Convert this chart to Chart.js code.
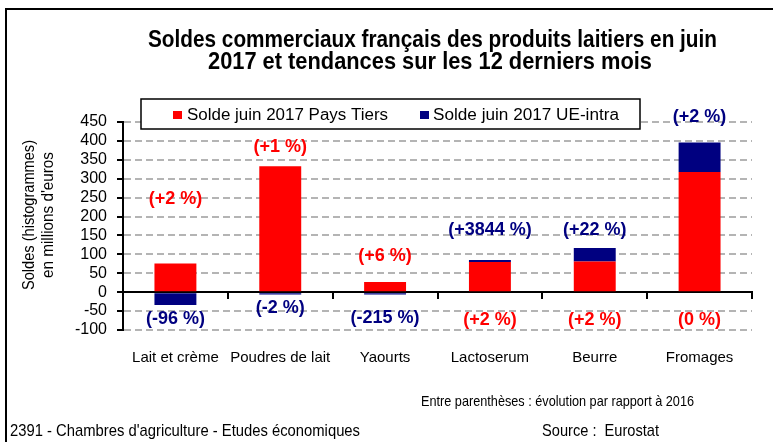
<!DOCTYPE html>
<html>
<head>
<meta charset="utf-8">
<script src="https://cdn.jsdelivr.net/npm/chart.js@4.4.1/dist/chart.umd.min.js"></script>
<style>
  html, body { margin: 0; padding: 0; background: #fff; }
  #wrap { width: 773px; height: 442px; position: relative; }
</style>
</head>
<body>
<div id="wrap"><canvas id="soldesChart"></canvas></div>
<script>
const FONT = "'Liberation Sans', Arial, sans-serif";

// Data (millions d'euros)
const categories = ['Lait et crème', 'Poudres de lait', 'Yaourts', 'Lactoserum', 'Beurre', 'Fromages'];
const paysTiers = [76, 333, 27, 80, 81, 318];
const ueIntra = [-34, -6, -6, 5, 36, 78];
const yTicks = { min: -100, max: 450, step: 50 };

// Evolution vs 2016, and the value each label sits at
const paysTiersEvo = ['(+2 %)', '(+1 %)', '(+6 %)', '(+2 %)', '(+2 %)', '(0 %)'];
const paysTiersEvoAt = [246, 384, 95, -74, -74, -74];
const ueIntraEvo = ['(-96 %)', '(-2 %)', '(-215 %)', '(+3844 %)', '(+22 %)', '(+2 %)'];
const ueIntraEvoAt = [-71, -42, -69, 164, 164, 463];

const RED = '#ff0000';
const NAVY = '#000080';

// draw text squeezed/stretched to a given width (the original uses condensed text)
function fitText(ctx, text, x, y, width) {
    const w = ctx.measureText(text).width;
    ctx.save();
    ctx.translate(x, y);
    ctx.scale(width / w, 1);
    ctx.textAlign = 'left';
    ctx.fillText(text, 0, 0);
    ctx.restore();
}

const decor = {
    id: 'decor',
    afterDraw(chart) {
        const ctx = chart.ctx;
        const xs = chart.scales.x;
        const ys = chart.scales.y;
        ctx.save();
        ctx.textBaseline = 'middle';
        ctx.textAlign = 'center';
        ctx.font = 'bold 18px ' + FONT;

        // evolution labels
        categories.forEach((c, i) => {
            const px = xs.getPixelForValue(i);
            ctx.fillStyle = RED;
            ctx.fillText(paysTiersEvo[i], px, ys.getPixelForValue(paysTiersEvoAt[i]));
            ctx.fillStyle = NAVY;
            ctx.fillText(ueIntraEvo[i], px, ys.getPixelForValue(ueIntraEvoAt[i]));
        });

        // legend box
        ctx.fillStyle = '#fff';
        ctx.fillRect(141, 99, 499, 30);
        ctx.strokeStyle = '#000';
        ctx.lineWidth = 1.5;
        ctx.strokeRect(141, 99, 499, 30);
        ctx.textBaseline = 'alphabetic';
        ctx.font = '16px ' + FONT;
        ctx.fillStyle = RED;
        ctx.fillRect(173, 111, 9, 8);
        ctx.fillStyle = '#000';
        fitText(ctx, 'Solde juin 2017 Pays Tiers', 187, 120, 201);
        ctx.fillStyle = NAVY;
        ctx.fillRect(420, 111, 9, 8);
        ctx.fillStyle = '#000';
        fitText(ctx, 'Solde juin 2017 UE-intra', 433, 120, 186);

        // title
        ctx.font = 'bold 24px ' + FONT;
        fitText(ctx, 'Soldes commerciaux français des produits laitiers en juin', 148, 47, 569);
        fitText(ctx, '2017 et tendances sur les 12 derniers mois', 208, 69, 444);

        // y axis title
        ctx.font = '16px ' + FONT;
        ctx.save();
        ctx.translate(34, 215);
        ctx.rotate(-Math.PI / 2);
        fitText(ctx, 'Soldes (histogrammes)', -75, 0, 150);
        ctx.restore();
        ctx.save();
        ctx.translate(53, 215);
        ctx.rotate(-Math.PI / 2);
        fitText(ctx, "en millions d'euros", -63, 0, 126);
        ctx.restore();

        // footer
        ctx.font = '15px ' + FONT;
        fitText(ctx, 'Entre parenthèses : évolution par rapport à 2016', 421, 406, 273);
        ctx.font = '17px ' + FONT;
        fitText(ctx, "2391 - Chambres d'agriculture - Etudes économiques", 10, 436, 350);
        fitText(ctx, 'Source :  Eurostat', 542, 436, 117);

        // frame
        ctx.strokeStyle = '#000';
        ctx.lineWidth = 2;
        ctx.beginPath();
        ctx.moveTo(6, 442);
        ctx.lineTo(6, 9);
        ctx.lineTo(773, 9);
        ctx.stroke();
        ctx.restore();
    }
};

new Chart(document.getElementById('soldesChart'), {
    type: 'bar',
    data: {
        labels: categories,
        datasets: [
            { label: 'Solde juin 2017 Pays Tiers', data: paysTiers, backgroundColor: RED, borderWidth: 0 },
            { label: 'Solde juin 2017 UE-intra', data: ueIntra, backgroundColor: NAVY, borderWidth: 0 }
        ]
    },
    options: {
        responsive: true,
        maintainAspectRatio: false,
        animation: false,
        layout: { padding: { left: 0, right: 21, top: 122, bottom: 0 } },
        datasets: { bar: { categoryPercentage: 1, barPercentage: 0.4 } },
        plugins: {
            legend: { display: false },
            title: { display: false },
            tooltip: { enabled: false }
        },
        scales: {
            x: {
                stacked: true,
                ticks: { color: '#000', font: { size: 15, family: FONT }, padding: 19, maxRotation: 0, autoSkip: false },
                grid: { display: false, drawTicks: false },
                border: { display: false },
                afterFit: s => { s.height = 112; }
            },
            x2: {
                type: 'category',
                labels: categories,
                position: { y: 0 },
                offset: true,
                ticks: { display: false },
                grid: { offset: true, drawOnChartArea: false, color: '#000', lineWidth: 2, tickLength: 6 },
                border: { color: '#000', width: 2 }
            },
            y: {
                stacked: true,
                min: yTicks.min,
                max: yTicks.max,
                ticks: {
                    stepSize: yTicks.step, maxTicksLimit: 20, autoSkip: false,
                    color: '#000', font: { size: 16, family: FONT }, padding: 10
                },
                grid: {
                    color: c => (c.tick && c.tick.value === 0) ? 'rgba(0,0,0,0)' : '#b4b4b4',
                    lineWidth: 2,
                    tickLength: 6,
                    tickColor: '#000',
                    tickWidth: 2
                },
                border: { color: '#000', width: 2, dash: [7, 4] },
                afterFit: s => { s.width = 123; }
            }
        }
    },
    plugins: [decor]
});
</script>
</body>
</html>
